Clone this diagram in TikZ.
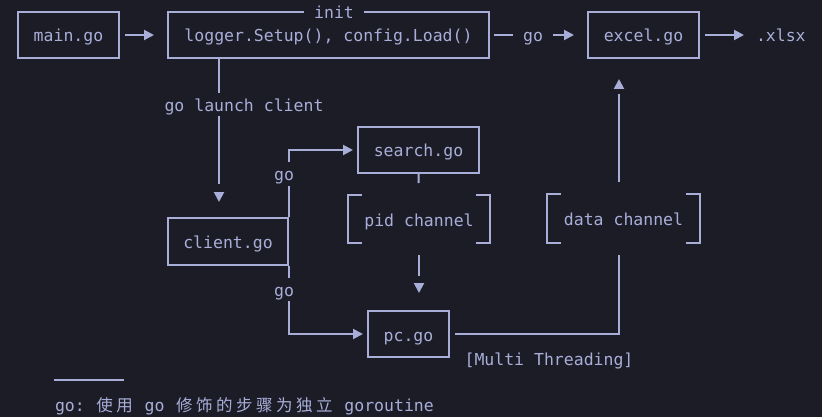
\documentclass[tikz,border=0pt]{standalone}
\usepackage{fontspec}
\setmonofont{DejaVu Sans Mono}
\newfontfamily\cjk{Noto Sans CJK SC}
\usetikzlibrary{arrows.meta}
\definecolor{bg}{HTML}{1C1C27}
\definecolor{fg}{HTML}{A8AED8}
\newcommand{\zh}[1]{\makebox[20pt]{\cjk #1}}

\begin{document}
\begin{tikzpicture}[x=1pt, y=-1pt, line width=2pt, color=fg,
		txt/.style = {text=fg, text height=14pt, text depth=0pt, font=\ttfamily\fontsize{16.5}{20}\selectfont},
		box/.style = {draw, inner sep=0pt, minimum height=46pt},
		chan/.style = {inner sep=0pt, minimum height=46pt},
		lbl/.style = {fill=bg, inner xsep=10pt, inner ysep=0pt, minimum height=23pt},
		arr/.style = {-{Triangle[length=10pt,width=10pt]}}]
	\fill[bg] (0,0) rectangle (822,417);
	\useasboundingbox (0,0) rectangle (822,417);
	\begin{scope}[every node/.style={txt}]
		\node[box, minimum width=101pt] (main) at (68.5,35) {main.go};
		\node[box, minimum width=321pt] (init) at (328.5,35) {logger.Setup(), config.Load()};
		\node[box, minimum width=111pt] (excel) at (643.5,35) {excel.go};
		\node[inner sep=0pt, anchor=west] (xlsx) at (755,35) {.xlsx};
		\node[box, minimum width=120pt, minimum height=47pt] (client) at (228,241.5) {client.go};
		\node[box, minimum width=121pt] (search) at (418.5,150) {search.go};
		\node[chan, minimum width=140pt] (pid) at (419,219) {pid channel};
		\node[chan, minimum width=151pt, minimum height=47pt] (data) at (623.5,218.5) {data channel};
		\node[box, minimum width=81pt] (pc) at (408.5,334) {pc.go};
		\node (mt) at (549,358) {[Multi Threading]};
		\node[inner sep=0pt, anchor=west] (note) at (54,404) {go: \zh{使}\zh{用} go \zh{修}\zh{饰}\zh{的}\zh{步}\zh{骤}\zh{为}\zh{独}\zh{立} goroutine};
	\end{scope}
	% channel brackets
	\foreach \c in {pid,data} {
		\draw ([xshift=14pt]\c.north west) -- (\c.north west) -- (\c.south west) -- ([xshift=14pt]\c.south west);
		\draw ([xshift=-14pt]\c.north east) -- (\c.north east) -- (\c.south east) -- ([xshift=-14pt]\c.south east);
	}
	\draw[arr, shorten <=5pt, shorten >=13pt] (main) -- (init);
	\draw[arr, shorten <=4pt, shorten >=13pt] (init) -- (excel);
	\draw[arr, shorten <=5pt, shorten >=11pt] (excel) -- (xlsx);
	\draw[shorten >=33pt] ([xshift=-9pt]client.north |- init.south) -- ([xshift=-9pt]client.north);
	\draw[arr] ([xshift=-9pt, yshift=25.5pt]client.north) -- ([xshift=-9pt, yshift=15pt]client.north);
	\draw[arr, shorten >=4pt] (client.north east) |- (search.west);
	\draw[arr, shorten >=4pt] (client.south east) |- (pc.west);
	\draw[shorten >=12pt] (search.south) -- (pid.north);
	\draw[shorten <=12pt, shorten >=34pt] (pid.south) -- (pid.south |- pc.north);
	\draw[arr] ([yshift=27.5pt]pid.south |- pc.north) -- ([yshift=17pt]pid.south |- pc.north);
	\draw[shorten <=5pt, shorten >=12pt] (pc.east) -| ([xshift=-4.5pt]data.south);
	\draw[shorten <=12pt, shorten >=35pt] ([xshift=-4.5pt]data.north) -- ([xshift=-4.5pt]data.north |- excel.south);
	\draw[arr] ([xshift=-4.5pt, yshift=-30.5pt]excel.south -| data.north) -- ([xshift=-4.5pt, yshift=-20pt]excel.south -| data.north);
	\draw ([yshift=24pt]note.west) -- ++(70,0);
	% labels on the lines
	\begin{scope}[every node/.style={txt, lbl}]
		\node (initlbl) at (334,12) {init};
		\node (golbl) at (533,35) {go};
		\node (launch) at (244,105) {go launch client};
		\node (go1) at (284,174) {go};
		\node (go2) at (284,289) {go};
	\end{scope}
\end{tikzpicture}
\end{document}
